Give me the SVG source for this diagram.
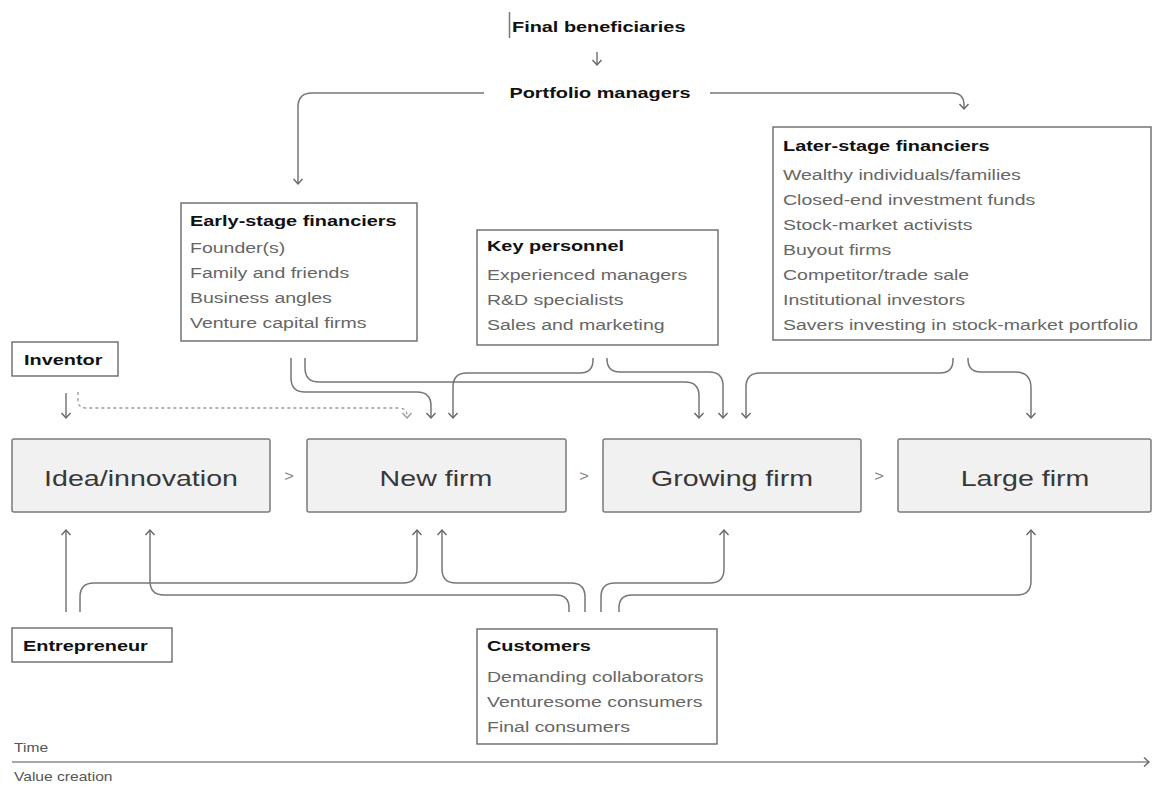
<svg xmlns="http://www.w3.org/2000/svg" width="1153" height="787" viewBox="0 0 1153 787">
<defs>
<style>
text{font-family:"Liberation Sans",Arial,Helvetica,sans-serif}
.t{font-weight:bold;font-size:15.3px;fill:#111}
.i{font-size:15px;fill:#666}
.m{font-size:22px;fill:#383838;text-anchor:middle}
.s{font-size:12px;fill:#555}
.ch{font-size:15px;fill:#888;text-anchor:middle}
.box{fill:#fff;stroke:#6a6a6a;stroke-width:1.4}
.main{fill:#f1f1f1;stroke:#7a7a7a;stroke-width:1.5}
.c{fill:none;stroke:#777;stroke-width:1.5}
.d{fill:none;stroke:#999;stroke-width:1.3;stroke-dasharray:3 3}
</style>
<marker id="ah" markerWidth="12" markerHeight="12" refX="6" refY="6" orient="auto" markerUnits="userSpaceOnUse">
<path d="M1,1.5 L6,6 L1,10.5" fill="none" stroke="#666" stroke-width="1.4"/>
</marker>
<marker id="ahd" markerWidth="12" markerHeight="12" refX="6" refY="6" orient="auto" markerUnits="userSpaceOnUse">
<path d="M1,1.5 L6,6 L1,10.5" fill="none" stroke="#999" stroke-width="1.3"/>
</marker>
</defs>
<rect width="1153" height="787" fill="#fff"/>

<g id="final-beneficiaries">
<line x1="509.5" y1="12" x2="509.5" y2="38" stroke="#777" stroke-width="1.5"/>
<text class="t" transform="translate(512 32) scale(1.3 1)">Final beneficiaries</text>
</g>
<g id="portfolio-managers">
<text class="t" text-anchor="middle" transform="translate(600 98) scale(1.3 1)">Portfolio managers</text>
</g>

<g id="early-stage">
<rect class="box" x="181" y="203" width="236" height="138"/>
<text class="t" transform="translate(190 226) scale(1.3 1)">Early-stage financiers</text>
<text class="i" transform="translate(190 253) scale(1.3 1)">Founder(s)</text>
<text class="i" transform="translate(190 278) scale(1.3 1)">Family and friends</text>
<text class="i" transform="translate(190 303) scale(1.3 1)">Business angles</text>
<text class="i" transform="translate(190 328) scale(1.3 1)">Venture capital firms</text>
</g>

<g id="key-personnel">
<rect class="box" x="477" y="230" width="241" height="115"/>
<text class="t" transform="translate(487 251) scale(1.3 1)">Key personnel</text>
<text class="i" transform="translate(487 280) scale(1.3 1)">Experienced managers</text>
<text class="i" transform="translate(487 305) scale(1.3 1)">R&amp;D specialists</text>
<text class="i" transform="translate(487 330) scale(1.3 1)">Sales and marketing</text>
</g>

<g id="later-stage">
<rect class="box" x="773" y="127" width="378" height="213"/>
<text class="t" transform="translate(783 151) scale(1.3 1)">Later-stage financiers</text>
<text class="i" transform="translate(783 180) scale(1.3 1)">Wealthy individuals/families</text>
<text class="i" transform="translate(783 205) scale(1.3 1)">Closed-end investment funds</text>
<text class="i" transform="translate(783 230) scale(1.3 1)">Stock-market activists</text>
<text class="i" transform="translate(783 255) scale(1.3 1)">Buyout firms</text>
<text class="i" transform="translate(783 280) scale(1.3 1)">Competitor/trade sale</text>
<text class="i" transform="translate(783 305) scale(1.3 1)">Institutional investors</text>
<text class="i" transform="translate(783 330) scale(1.3 1)">Savers investing in stock-market portfolio</text>
</g>

<g id="inventor">
<rect class="box" x="12" y="342" width="106" height="34"/>
<text class="t" transform="translate(24 365) scale(1.3 1)">Inventor</text>
</g>

<g id="idea">
<rect class="main" x="12" y="439" width="258" height="73" rx="2"/>
<text class="m" transform="translate(141 486) scale(1.3 1)">Idea/innovation</text>
</g>
<g id="new-firm">
<rect class="main" x="307" y="439" width="259" height="73" rx="2"/>
<text class="m" transform="translate(436 486) scale(1.3 1)">New firm</text>
</g>
<g id="growing-firm">
<rect class="main" x="603" y="439" width="258" height="73" rx="2"/>
<text class="m" transform="translate(732 486) scale(1.3 1)">Growing firm</text>
</g>
<g id="large-firm">
<rect class="main" x="898" y="439" width="253" height="73" rx="2"/>
<text class="m" transform="translate(1025 486) scale(1.3 1)">Large firm</text>
</g>
<g id="chevrons">
<text class="ch" transform="translate(289 481) scale(1.1 1)">&gt;</text>
<text class="ch" transform="translate(584 481) scale(1.1 1)">&gt;</text>
<text class="ch" transform="translate(879 481) scale(1.1 1)">&gt;</text>
</g>

<g id="entrepreneur">
<rect class="box" x="12" y="628" width="160" height="34"/>
<text class="t" transform="translate(23 651) scale(1.3 1)">Entrepreneur</text>
</g>

<g id="customers">
<rect class="box" x="477" y="629" width="240" height="115"/>
<text class="t" transform="translate(487 651) scale(1.3 1)">Customers</text>
<text class="i" transform="translate(487 682) scale(1.3 1)">Demanding collaborators</text>
<text class="i" transform="translate(487 707) scale(1.3 1)">Venturesome consumers</text>
<text class="i" transform="translate(487 732) scale(1.3 1)">Final consumers</text>
</g>

<g id="timeline">
<text class="s" transform="translate(14 752) scale(1.3 1)">Time</text>
<text class="s" transform="translate(14 781) scale(1.3 1)">Value creation</text>
</g>

<g id="connectors">
<path class="c" d="M597,52 V65" marker-end="url(#ah)"/>
<path class="c" d="M484,93 H312 Q298,93 298,107 V184" marker-end="url(#ah)"/>
<path class="c" d="M710,93 H952 Q964,93 964,105 V109" marker-end="url(#ah)"/>

<path class="c" d="M66,393 V418" marker-end="url(#ah)"/>
<path class="d" d="M78,392 V400 Q78,408 86,408 H399 Q407,408 407,416 V418" marker-end="url(#ahd)"/>
<path class="c" d="M291,358 V378 Q291,392 305,392 H417 Q431,392 431,406 V418" marker-end="url(#ah)"/>
<path class="c" d="M305,358 V368 Q305,382 319,382 H685 Q699,382 699,396 V418" marker-end="url(#ah)"/>
<path class="c" d="M593,358 V360 Q593,373 580,373 H467 Q453,373 453,387 V418" marker-end="url(#ah)"/>
<path class="c" d="M607,358 V359 Q607,372 620,372 H709 Q723,372 723,386 V418" marker-end="url(#ah)"/>
<path class="c" d="M953,358 V360 Q953,373 940,373 H760 Q746,373 746,387 V418" marker-end="url(#ah)"/>
<path class="c" d="M968,358 V359 Q968,372 981,372 H1015 Q1031,372 1031,388 V418" marker-end="url(#ah)"/>

<path class="c" d="M66,612 V530" marker-end="url(#ah)"/>
<path class="c" d="M80,612 V597 Q80,583 94,583 H403 Q417,583 417,569 V530" marker-end="url(#ah)"/>
<path class="c" d="M569,612 V608 Q569,595 556,595 H164 Q150,595 150,581 V530" marker-end="url(#ah)"/>
<path class="c" d="M585,612 V597 Q585,583 571,583 H456 Q442,583 442,569 V530" marker-end="url(#ah)"/>
<path class="c" d="M601,612 V597 Q601,583 615,583 H710 Q724,583 724,569 V530" marker-end="url(#ah)"/>
<path class="c" d="M619,612 V608 Q619,595 632,595 H1017 Q1031,595 1031,581 V530" marker-end="url(#ah)"/>

<path d="M12,762 H1149" fill="none" stroke="#8a8a8a" stroke-width="1.6" marker-end="url(#ah)"/>
</g>
</svg>
